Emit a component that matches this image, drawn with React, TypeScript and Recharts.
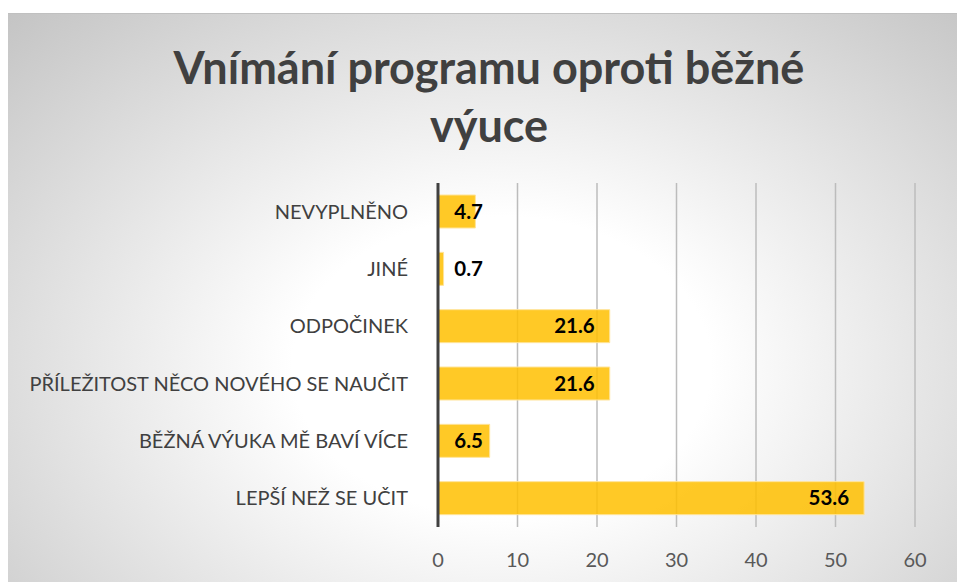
import { BarChart, Bar, XAxis, YAxis, CartesianGrid, LabelList } from "recharts"

const categories = [
    "NEVYPLNĚNO",
    "JINÉ",
    "ODPOČINEK",
    "PŘÍLEŽITOST NĚCO NOVÉHO SE NAUČIT",
    "BĚŽNÁ VÝUKA MĚ BAVÍ VÍCE",
    "LEPŠÍ NEŽ SE UČIT",
]
const values = [4.7, 0.7, 21.6, 21.6, 6.5, 53.6]
const xTicks = [0, 10, 20, 30, 40, 50, 60]

const data = categories.map((name, i) => ({ name, value: values[i] }))

const FONT = "Lato, 'Open Sans', sans-serif"

function CategoryTick(props: any) {
    const { x, y, payload } = props
    return (
        <text x={x - 22} y={y} dy={7} textAnchor="end" fill="#404040" fontSize={20} fontFamily={FONT}>
            {payload.value}
        </text>
    )
}

function ValueTick(props: any) {
    const { x, y, payload } = props
    return (
        <text x={x} y={y} dy={32} textAnchor="middle" fill="#595959" fontSize={20} fontFamily={FONT}>
            {payload.value}
        </text>
    )
}

function ValueLabel(props: any) {
    const { x, y, width, height, value } = props
    // label sits just inside the bar end, but never closer to the axis than a fixed gap
    const end = Math.max(x + width - 15, x + 45)
    return (
        <text x={end} y={y + height / 2} dy={7} textAnchor="end" fill="#000" fontSize={20.5} fontWeight="bold" fontFamily={FONT}>
            {value}
        </text>
    )
}

export default function App() {
    return (
        <div
            style={{
                position: "absolute",
                top: 13,
                left: 8,
                width: 949,
                height: 569,
                borderTop: "1px solid #c0c0c0",
                boxSizing: "border-box",
                background: "radial-gradient(ellipse farthest-corner at 52% 62%, #ffffff 0%, #ffffff 30%, #c4c4c4 100%)",
                fontFamily: FONT,
                overflow: "hidden",
            }}
        >
            <div
                style={{
                    position: "absolute",
                    top: 24,
                    left: 0,
                    width: 962,
                    textAlign: "center",
                    fontSize: 45,
                    fontWeight: "bold",
                    color: "#404040",
                    lineHeight: "58px",
                }}
            >
                Vnímání programu oproti běžné
                <br />
                výuce
            </div>
            <div style={{ position: "absolute", top: -1, left: 0 }}>
                <BarChart
                    width={949}
                    height={569}
                    data={data}
                    layout="vertical"
                    margin={{ top: 170, right: 42, bottom: 0, left: 0 }}
                    barSize={33}
                >
                    <CartesianGrid horizontal={false} stroke="#bcbcbc" strokeWidth={1.5} />
                    <XAxis
                        type="number"
                        domain={[0, 60]}
                        ticks={xTicks}
                        axisLine={false}
                        tickLine={false}
                        tick={<ValueTick />}
                        height={55}
                    />
                    <YAxis
                        type="category"
                        dataKey="name"
                        width={430}
                        axisLine={{ stroke: "#404040", strokeWidth: 3 }}
                        tickLine={false}
                        tick={<CategoryTick />}
                        interval={0}
                    />
                    <Bar
                        dataKey="value"
                        fill="#ffc000"
                        fillOpacity={0.85}
                        stroke="#ffe49a"
                        strokeWidth={1}
                        isAnimationActive={false}
                    >
                        <LabelList dataKey="value" content={<ValueLabel />} />
                    </Bar>
                </BarChart>
            </div>
        </div>
    )
}
